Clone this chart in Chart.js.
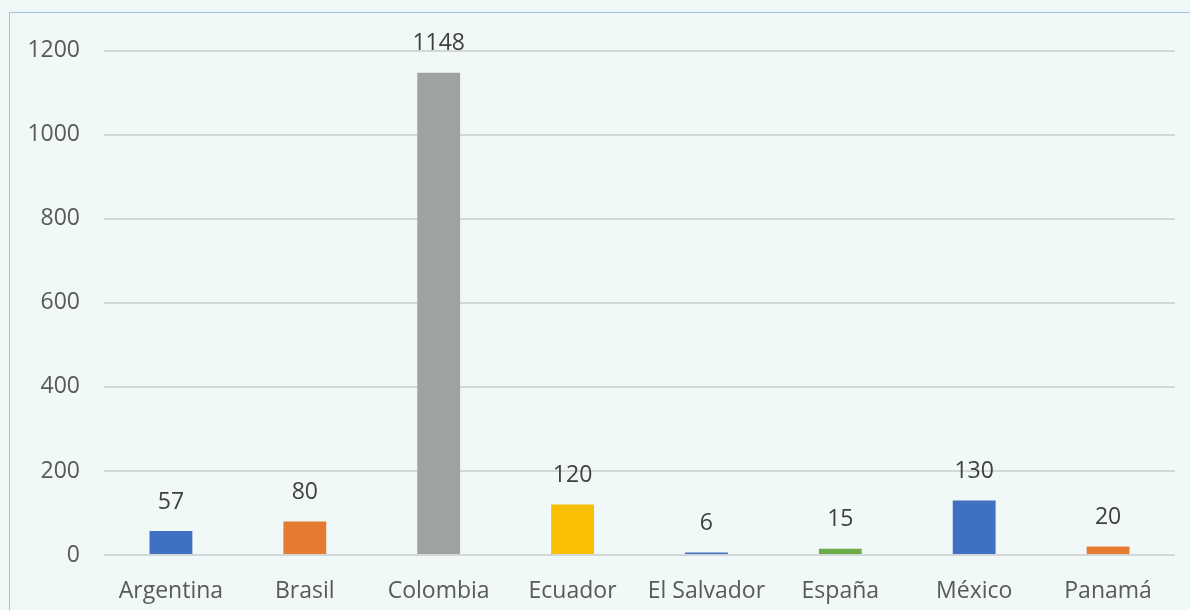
<!DOCTYPE html>
<html>
<head>
  <meta charset="UTF-8">
  <script src="https://cdn.jsdelivr.net/npm/chart.js"></script>
  <style>
    body { margin: 0; background: #f1f8f8; width: 1190px; height: 610px; overflow: hidden; }
    #box { position: absolute; left: 9px; top: 12px; width: 1181px; height: 598px;
           border-top: 1px solid #9dc3e0; border-left: 1px solid #9dc3e0; }
  </style>
</head>
<body>
<div id="box"><canvas id="chart" width="1180" height="597"></canvas></div>
<script>
var countries = ['Argentina', 'Brasil', 'Colombia', 'Ecuador', 'El Salvador', 'España', 'México', 'Panamá'];
var values = [57, 80, 1148, 120, 6, 15, 130, 20];
var barColors = ['#4070c2', '#e57b31', '#9ea2a1', '#f8c000', '#4070c2', '#6cab47', '#4070c2', '#e57b31'];
var yTicks = [0, 200, 400, 600, 800, 1000, 1200];

var FONT = 'Open Sans';

// draw the numbers above the bars
var valueLabels = {
  id: 'valueLabels',
  afterDatasetsDraw: function (chart) {
    var ctx = chart.ctx;
    var meta = chart.getDatasetMeta(0);
    ctx.save();
    ctx.fillStyle = '#404040';
    ctx.font = '23px "' + FONT + '"';
    ctx.textAlign = 'center';
    ctx.textBaseline = 'middle';
    meta.data.forEach(function (bar, i) {
      ctx.fillText(values[i], bar.x, bar.y - 29);
    });
    ctx.restore();
  }
};

new Chart(document.getElementById('chart'), {
  type: 'bar',
  data: {
    labels: countries,
    datasets: [{
      data: values,
      backgroundColor: barColors,
      categoryPercentage: 1,
      barPercentage: 0.32
    }]
  },
  options: {
    responsive: false,
    animation: false,
    layout: { padding: { top: 37, right: 15, left: 0, bottom: 0 } },
    plugins: { legend: { display: false }, tooltip: { enabled: false } },
    scales: {
      x: {
        grid: { display: false },
        border: { display: false },
        ticks: { color: '#595959', font: { family: FONT, size: 23 }, padding: 15 },
        afterFit: function (s) { s.height = 55; }
      },
      y: {
        min: 0, max: 1200,
        afterBuildTicks: function (s) { s.ticks = yTicks.map(function (v) { return { value: v }; }); },
        grid: { color: '#d3d7d7', lineWidth: 2, drawTicks: false },
        border: { display: false },
        ticks: { color: '#595959', font: { family: FONT, size: 23 }, padding: 24,
                 callback: function (v) { return String(v); } },
        afterFit: function (s) { s.width = 94; }
      }
    }
  },
  plugins: [valueLabels]
});
</script>
</body>
</html>
